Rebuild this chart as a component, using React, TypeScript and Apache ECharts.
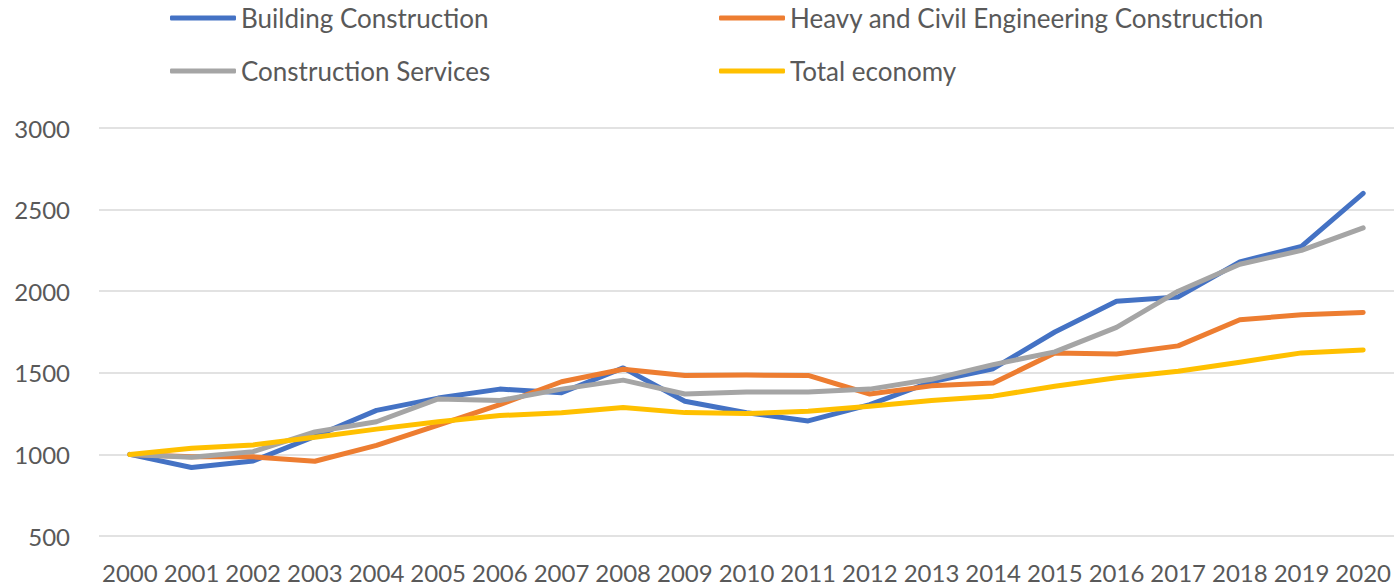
import React, { useEffect, useRef } from "react";
import * as echarts from "echarts";

const years = ["2000","2001","2002","2003","2004","2005","2006","2007","2008","2009","2010","2011","2012","2013","2014","2015","2016","2017","2018","2019","2020"];
const buildingConstruction = [1000, 920, 960, 1110, 1270, 1345, 1400, 1378, 1530, 1326, 1255, 1205, 1305, 1445, 1525, 1750, 1938, 1965, 2180, 2275, 2600];
const heavyCivil = [1000, 985, 985, 958, 1055, 1180, 1305, 1445, 1522, 1484, 1486, 1484, 1370, 1420, 1437, 1622, 1615, 1665, 1825, 1855, 1870];
const constructionServices = [1000, 983, 1017, 1138, 1200, 1340, 1330, 1400, 1455, 1370, 1382, 1382, 1400, 1460, 1550, 1628, 1778, 2000, 2165, 2250, 2388];
const totalEconomy = [1000, 1038, 1058, 1105, 1155, 1200, 1238, 1255, 1288, 1256, 1250, 1265, 1295, 1330, 1357, 1418, 1470, 1510, 1565, 1622, 1640];

const seriesNames = ["Building Construction", "Heavy and Civil Engineering Construction", "Construction Services", "Total economy"];
const seriesColors = ["#4472C4", "#ED7D31", "#A5A5A5", "#FFC000"];
const seriesData = [buildingConstruction, heavyCivil, constructionServices, totalEconomy];

const FONT = "Lato";
const TEXT_COLOR = "#595959";

export default function App() {
  const ref = useRef<HTMLDivElement>(null);
  useEffect(() => {
    if (!ref.current) return;
    const chart = echarts.init(ref.current, null, { renderer: "svg" });
    const legendPos = [
      { left: 170, top: 4 },
      { left: 719, top: 4 },
      { left: 170, top: 57 },
      { left: 719, top: 57 },
    ];
    chart.setOption({
      animation: false,
      backgroundColor: "#ffffff",
      textStyle: { fontFamily: FONT },
      grid: { left: 99, right: 2, top: 128, bottom: 50, containLabel: false },
      legend: seriesNames.map((n, i) => ({
        data: [n],
        left: legendPos[i].left,
        top: legendPos[i].top,
        padding: 0,
        icon: "roundRect",
        itemWidth: 66,
        itemHeight: 5,
        itemGap: 5,
        selectedMode: false,
        textStyle: { color: TEXT_COLOR, fontSize: 26, fontFamily: FONT, lineHeight: 28 },
      })),
      xAxis: {
        type: "category",
        data: years,
        boundaryGap: true,
        axisLine: { show: false },
        axisTick: { show: false },
        axisLabel: { interval: 0, color: TEXT_COLOR, fontSize: 24, fontFamily: FONT, margin: 24 },
      },
      yAxis: {
        type: "value",
        min: 500,
        max: 3000,
        interval: 500,
        axisLine: { show: false },
        axisTick: { show: false },
        axisLabel: {
          color: TEXT_COLOR,
          fontSize: 24,
          fontFamily: FONT,
          margin: 29,
          formatter: (v: number) => String(v),
        },
        splitLine: { lineStyle: { color: "#d9d9d9", width: 1.5 } },
      },
      series: seriesNames.map((n, i) => ({
        name: n,
        type: "line",
        data: seriesData[i],
        symbol: "none",
        showSymbol: false,
        color: seriesColors[i],
        lineStyle: { color: seriesColors[i], width: 5, cap: "round", join: "round" },
        itemStyle: { color: seriesColors[i] },
      })),
    });
    return () => chart.dispose();
  }, []);
  return (
    <div
      ref={ref}
      style={{ position: "fixed", left: 0, top: 0, width: 1396, height: 586, background: "#fff" }}
    />
  );
}
